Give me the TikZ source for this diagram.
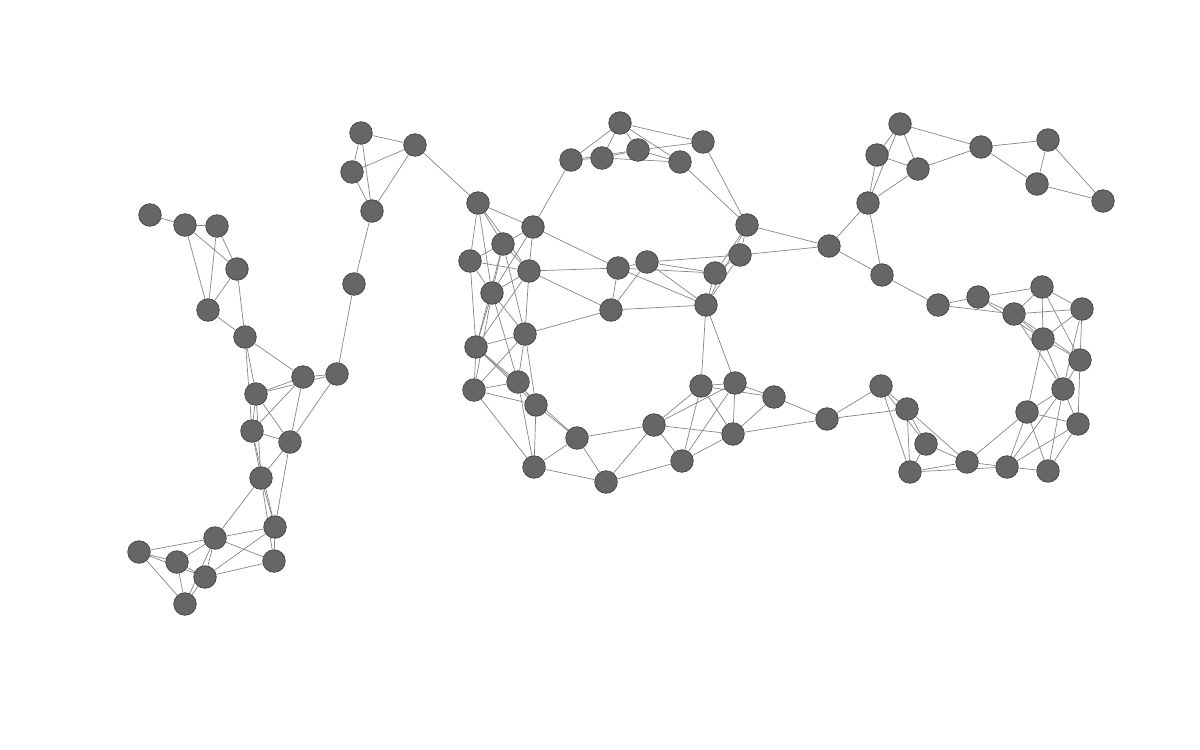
\documentclass[tikz,border=0pt]{standalone}
\usetikzlibrary{backgrounds}
\definecolor{vfill}{HTML}{666666}
\definecolor{vline}{HTML}{4A4A4A}
\definecolor{eline}{HTML}{858585}
\tikzset{
  vtx/.style={circle,fill=vfill,draw=vline,line width=0.8pt,minimum size=22.5pt,inner sep=0pt},
  lnk/.style={draw=eline,line width=0.7pt}
}
\begin{document}
\begin{tikzpicture}[x=1pt,y=-1pt]
\useasboundingbox (0,0) rectangle (1200,750);
% Y
\foreach \n/\x/\y in {Y1/150/215,Y2/185/225,Y3/217/226,Y4/237/269,Y5/208/310,Y6/245/337,Y7/352/172,Y8/361/133,Y9/415/145,Y10/372/211,Y11/354/284,Y12/337/374,Y13/303/377,Y14/256/394,Y15/252/431,Y16/290/442,Y17/261/478,Y18/275/527,Y19/215/538,Y20/139/552,Y21/177/562,Y22/205/577,Y23/274/561,Y24/185/604}
  \node[vtx] (\n) at (\x,\y) {};
% O
\foreach \n/\x/\y in {O1/478/203,O2/533/227,O3/503/244,O4/470/261,O5/529/271,O6/492/293,O7/525/334,O8/476/347,O9/518/382,O10/474/390,O11/536/405,O12/618/268,O13/611/310,O14/577/438,O15/534/467,O16/606/482,O17/654/425,O18/682/461,O19/701/386,O20/735/383,O21/774/397,O22/733/434,O23/827/419,O24/647/262,T1/571/160,T2/602/158,T3/620/123,T4/638/150,T5/680/162,T6/703/142,T7/747/225,T8/740/255,T9/715/273,T10/706/305}
  \node[vtx] (\n) at (\x,\y) {};
% S
\foreach \n/\x/\y in {S1/900/124,S2/877/155,S3/918/169,S4/981/147,S5/1048/140,S6/1037/184,S7/1103/201,S8/868/203,S9/829/246,S10/882/275,S11/938/305,S12/978/297,S13/1042/287,S14/1014/314,S15/1082/309,S16/1043/339,S17/1080/360,S18/1063/389,S19/1027/412,S20/1078/424,S21/881/386,S22/907/409,S23/926/444,S24/910/472,S25/967/462,S26/1007/467,S27/1048/471}
  \node[vtx] (\n) at (\x,\y) {};
\begin{pgfonlayer}{background}
\foreach \a/\b in {Y1/Y2,Y2/Y3,Y2/Y5,Y2/Y4,Y3/Y5,Y3/Y4,Y4/Y5,Y4/Y6,Y5/Y6,Y6/Y14,Y6/Y15,Y6/Y13,Y8/Y9,Y8/Y7,Y8/Y10,Y7/Y9,Y7/Y10,Y9/Y10,Y9/O1,Y10/Y11,Y11/Y12,Y13/Y12,Y14/Y13,Y14/Y12,Y14/Y15,Y14/Y16,Y15/Y13,Y15/Y16,Y13/Y16,Y12/Y16,Y15/Y17,Y14/Y17,Y16/Y17,Y16/Y18,Y15/Y18,Y17/Y18,Y17/Y19,Y19/Y18,Y18/Y23,Y17/Y23,Y18/Y22,Y19/Y23,Y22/Y23,Y19/Y20,Y19/Y21,Y19/Y22,Y19/Y24,Y20/Y21,Y20/Y22,Y20/Y24,Y21/Y22,Y21/Y24,Y22/Y24}
  \draw[lnk] (\a) -- (\b);
\foreach \a/\b in {O1/O2,O1/O3,O1/O5,O1/O4,O1/O6,O2/O3,O2/O5,O2/O6,O3/O4,O4/O5,O4/O6,O4/O8,O3/O6,O3/O5,O3/O7,O3/O8,O5/O6,O5/O7,O5/O8,O5/O12,O5/O13,O6/O7,O6/O8,O6/O10,O6/O9,O7/O8,O7/O13,O7/O9,O7/O10,O7/O11,O8/O10,O8/O11,O8/O9,O9/O10,O9/O11,O10/O11,O10/O15,O9/O15,O11/O15,O11/O14,O8/O14,O14/O15,O14/O16,O14/O17,O15/O16,O16/O17,O16/O18,O17/O18,O2/O12,O2/T1}
  \draw[lnk] (\a) -- (\b);
\foreach \a/\b in {T3/T1,T3/T2,T3/T4,T3/T5,T3/T6,T1/T2,T1/T4,T2/T4,T2/T5,T4/T5,T4/T6,T5/T7,T6/T7,T7/T8,T7/T9,T7/T10,T8/T9,T8/T10,T9/T10,T7/S9,T8/S9,O12/O24,O12/O13,O24/O13,O24/T8,O24/T9,O24/T10,O12/T9,O12/T10,O13/T10}
  \draw[lnk] (\a) -- (\b);
\foreach \a/\b in {T10/O19,T10/O20,O19/O20,O19/O21,O20/O21,O21/O23,O21/O22,O23/S21,O23/S22,O22/O23,O17/O19,O17/O20,O17/O22,O18/O19,O18/O20,O18/O22,O19/O22,O20/O22}
  \draw[lnk] (\a) -- (\b);
\foreach \a/\b in {S1/S2,S1/S3,S1/S4,S1/S8,S2/S3,S2/S8,S3/S8,S3/S4,S4/S5,S4/S6,S5/S6,S5/S7,S6/S7,S8/S9,S8/S10,S9/S10,S10/S11,S11/S12,S11/S14,S12/S13,S12/S14,S12/S16,S13/S14,S13/S15,S13/S16,S13/S17,S14/S15,S14/S16,S14/S17,S14/S18,S15/S16,S15/S17,S15/S18,S16/S17,S16/S18,S16/S19,S17/S18,S17/S20,S18/S19,S18/S20,S18/S26,S18/S27,S19/S20,S19/S25,S19/S26,S19/S27,S20/S26,S20/S27,S26/S27,S25/S26,S24/S25,S24/S26,S21/S22,S21/S24,S21/S23,S22/S23,S22/S24,S22/S25,S23/S24,S23/S25}
  \draw[lnk] (\a) -- (\b);
\end{pgfonlayer}
\end{tikzpicture}
\end{document}
